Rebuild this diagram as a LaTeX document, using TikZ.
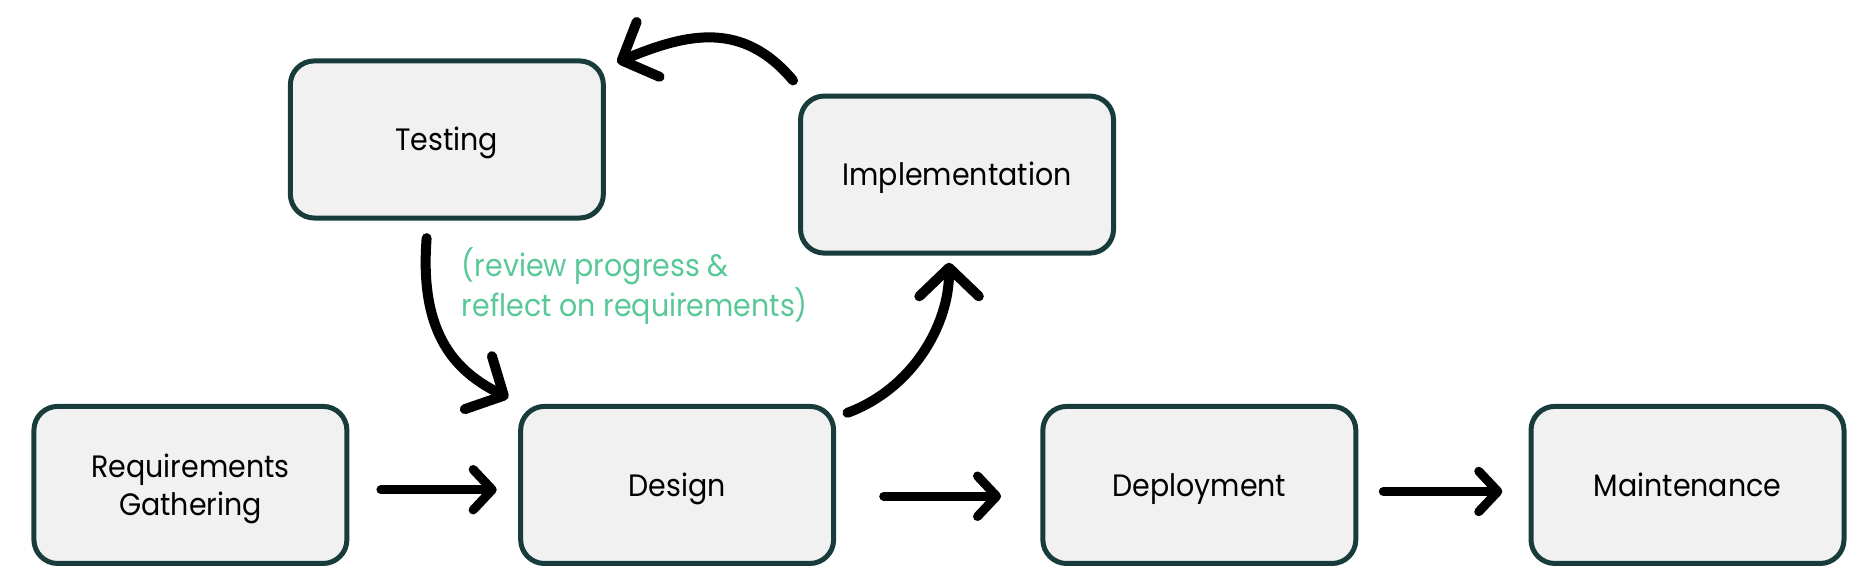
\documentclass[tikz,border=0pt]{standalone}
\usepackage{fontspec}
\setmainfont[FakeStretch=0.92]{Poppins}
\usetikzlibrary{arrows.meta,calc}
\definecolor{boxc}{RGB}{24,60,60}
\definecolor{boxfill}{RGB}{241,241,241}
\definecolor{notec}{RGB}{88,200,152}
\begin{document}
\begin{tikzpicture}[x=1pt,y=1pt,
  box/.style={draw=boxc, fill=boxfill, line width=4.2pt, rounded corners=20pt,
    minimum width=263pt, minimum height=132pt, align=center, inner sep=0pt,
    text height=25.4pt, text depth=6.6pt,
    font=\fontsize{26}{32}\selectfont},
  arr/.style={line width=7.6pt, line cap=round,
    -{Straight Barb[length=16pt, width=34pt, round]}},
  carr/.style={line width=8.4pt, line cap=round,
    -{Straight Barb[length=24pt, width=50pt, round]}},
  note/.style={text=notec, align=left, inner sep=0pt,
    font=\fontsize{26}{33.6}\selectfont}
]
\useasboundingbox (0,0) rectangle (1568,489);

\node[box] (testing) at (375.5,371.8) {Testing};
\node[box] (impl) at (804.2,342.3) {Implementation};
\node[box, text height=57.4pt] (req) at (160,81.5) {Requirements\\Gathering};
\node[box] (design) at (569,81.5) {Design};
\node[box] (deploy) at (1007.8,81.5) {Deployment};
\node[box] (maint) at (1418,81.5) {Maintenance};

\node[note, anchor=base west] (lbl) at (388,223) {(review progress \&\\reflect on requirements)};

% straight arrows
\draw[arr] ($(req.east)+(26.5,-4)$) -- ($(design.west)+(-18,-4)$);
\draw[arr] ($(design.east)+(40,-9.5)$) -- ($(deploy.west)+(-33,-9.5)$);
\draw[arr] ($(deploy.east)+(21,-5.5)$) -- ($(maint.west)+(-22,-5.5)$);

% curved arrows
\coordinate (d0) at ($(design.north east)+(9.5,-7.5)$);
\coordinate (i1) at ($(impl.south)+(-6.7,-6)$);
\draw[carr] (d0) .. controls ($(d0)+(54,20)$) and ($(i1)+(0,-53)$) .. (i1);

\coordinate (i0) at ($(impl.north west)+(-4.2,11)$);
\coordinate (t1) at ($(testing.north east)+(9.5,-3.3)$);
\draw[carr] (i0) .. controls ($(i0)+(-41.8,49.8)$) and ($(t1)+(60,25.1)$) .. (t1);

\coordinate (t0) at ($(testing.south)+(-17,-14.8)$);
\coordinate (d1) at ($(design.north west)+(-8.3,5)$);
\draw[carr] (t0) .. controls ($(t0)+(-6.5,-83.5)$) and ($(d1)+(-42,21.5)$) .. (d1);
\end{tikzpicture}
\end{document}
